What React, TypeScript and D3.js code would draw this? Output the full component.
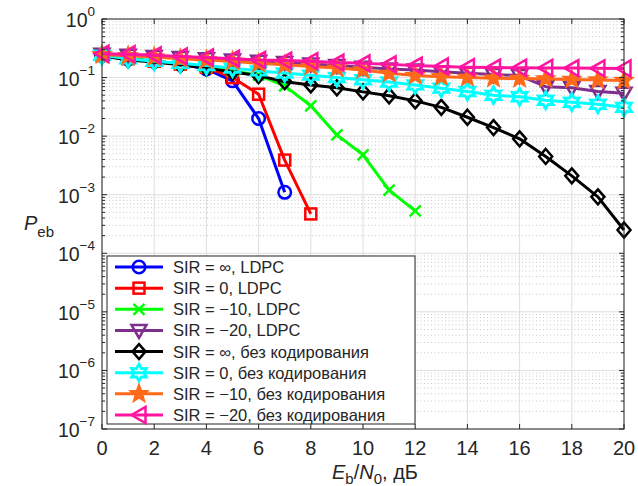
import React from 'react';
import * as d3 from 'd3';

// Eb/N0, dB
const ebn0 = [0, 1, 2, 3, 4, 5, 6, 7, 8, 9, 10, 11, 12, 13, 14, 15, 16, 17, 18, 19, 20];

// LDPC curves (truncated where simulation stopped)
const ldpcInf = [0.24, 0.21, 0.19, 0.17, 0.14, 0.088, 0.02, 0.0011];
const ldpc0 = [0.24, 0.21, 0.19, 0.17, 0.15, 0.1, 0.052, 0.0039, 0.00047];
const ldpcM10 = [0.24, 0.21, 0.19, 0.17, 0.15, 0.13, 0.11, 0.072, 0.033, 0.0105, 0.0048, 0.0012, 0.00053];
const ldpcM20 = [0.25, 0.24, 0.23, 0.22, 0.21, 0.2, 0.19, 0.18, 0.17, 0.16, 0.15, 0.14, 0.135, 0.126, 0.118, 0.113, 0.108, 0.07, 0.067, 0.058, 0.054];

// uncoded
const uncInf = [0.235, 0.2, 0.185, 0.165, 0.145, 0.125, 0.108, 0.085, 0.075, 0.067, 0.057, 0.049, 0.04, 0.031, 0.021, 0.014, 0.009, 0.0045, 0.0021, 0.00092, 0.00025];
const unc0 = [0.24, 0.21, 0.19, 0.175, 0.16, 0.145, 0.13, 0.12, 0.11, 0.1, 0.092, 0.084, 0.075, 0.066, 0.058, 0.05, 0.047, 0.041, 0.038, 0.035, 0.031];
const uncM10 = [0.245, 0.235, 0.225, 0.21, 0.2, 0.19, 0.175, 0.165, 0.155, 0.145, 0.135, 0.118, 0.108, 0.103, 0.1, 0.097, 0.096, 0.095, 0.093, 0.091, 0.089];
const uncM20 = [0.255, 0.25, 0.24, 0.23, 0.22, 0.21, 0.2, 0.195, 0.19, 0.18, 0.175, 0.168, 0.16, 0.155, 0.15, 0.148, 0.147, 0.146, 0.145, 0.144, 0.143];

const labels = [
  'SIR = ∞, LDPC',
  'SIR = 0, LDPC',
  'SIR = −10, LDPC',
  'SIR = −20, LDPC',
  'SIR = ∞, без кодирования',
  'SIR = 0, без кодирования',
  'SIR = −10, без кодирования',
  'SIR = −20, без кодирования',
];
const colors = ['#0000ff', '#ff0000', '#00ff00', '#7e2f8e', '#000000', '#00ffff', '#ff6a1a', '#ff14a0'];
const markers = ['circle', 'square', 'x', 'down', 'diamond', 'hexagram', 'pentagram', 'left'];
const seriesData = [ldpcInf, ldpc0, ldpcM10, ldpcM20, uncInf, unc0, uncM10, uncM20];

const xTicks = [0, 2, 4, 6, 8, 10, 12, 14, 16, 18, 20];
const yExps = [0, -1, -2, -3, -4, -5, -6, -7];

const W = 638;
const H = 486;
const m = { left: 102, right: 624, top: 19, bottom: 429 };
const font = 'Liberation Sans, Arial, Helvetica, sans-serif';

function star(n: number, ro: number, ri: number, cx: number, cy: number) {
  const pts: string[] = [];
  for (let i = 0; i < 2 * n; i++) {
    const a = -Math.PI / 2 + (i * Math.PI) / n;
    const r = i % 2 === 0 ? ro : ri;
    pts.push(`${cx + r * Math.cos(a)},${cy + r * Math.sin(a)}`);
  }
  return 'M' + pts.join('L') + 'Z';
}

function Marker({ kind, x, y, color }: { kind: string; x: number; y: number; color: string }) {
  const sw = 2.5;
  switch (kind) {
    case 'circle':
      return <circle cx={x} cy={y} r={6.3} fill="none" stroke={color} strokeWidth={sw} />;
    case 'square':
      return <rect x={x - 5.5} y={y - 5.5} width={11} height={11} fill="none" stroke={color} strokeWidth={sw} />;
    case 'x':
      return (
        <path d={`M${x - 5.5},${y - 5.5}L${x + 5.5},${y + 5.5}M${x - 5.5},${y + 5.5}L${x + 5.5},${y - 5.5}`} stroke={color} strokeWidth={sw} />
      );
    case 'down':
      return <path d={`M${x - 7.5},${y - 5.5}L${x + 7.5},${y - 5.5}L${x},${y + 7.5}Z`} fill="none" stroke={color} strokeWidth={sw} />;
    case 'left':
      return <path d={`M${x + 6.5},${y - 8}L${x + 6.5},${y + 8}L${x - 7.5},${y}Z`} fill="none" stroke={color} strokeWidth={sw} />;
    case 'diamond':
      return <path d={`M${x},${y - 7.5}L${x + 6.5},${y}L${x},${y + 7.5}L${x - 6.5},${y}Z`} fill="none" stroke={color} strokeWidth={sw} />;
    case 'hexagram':
      return <path d={star(6, 8.5, 4.8, x, y)} fill="none" stroke={color} strokeWidth={2.8} />;
    case 'pentagram':
      return <path d={star(5, 9.5, 4, x, y)} fill={color} stroke={color} strokeWidth={1.5} />;
    default:
      return null;
  }
}

export default function App() {
  const x = d3.scaleLinear().domain([0, 20]).range([m.left, m.right]);
  const y = d3.scaleLog().domain([1e-7, 1]).range([m.bottom, m.top]);
  const line = d3
    .line<number>()
    .x((_, i) => x(ebn0[i]))
    .y((d) => y(d));

  const minor: number[] = [];
  yExps.slice(1).forEach((e) => {
    for (let k = 2; k <= 9; k++) minor.push(k * Math.pow(10, e));
  });

  const legX = 107;
  const legY = 256;
  const legW = 308;
  const legH = 168;
  const rowH = 21.14;

  return (
    <svg width={W} height={H} style={{ position: 'absolute', left: 0, top: 0, background: '#fff' }} fontFamily={font}>
      <rect x={0} y={0} width={W} height={H} fill="#fff" />
      {/* grid */}
      {minor.map((v, i) => (
        <line key={'mg' + i} x1={m.left} x2={m.right} y1={y(v)} y2={y(v)} stroke="#c8c8c8" strokeWidth={1} strokeDasharray="1,2.5" />
      ))}
      {yExps.map((e) => (
        <line key={'yg' + e} x1={m.left} x2={m.right} y1={y(Math.pow(10, e))} y2={y(Math.pow(10, e))} stroke="#dedede" strokeWidth={1} />
      ))}
      {xTicks.map((t) => (
        <line key={'xg' + t} x1={x(t)} x2={x(t)} y1={m.top} y2={m.bottom} stroke="#dedede" strokeWidth={1} />
      ))}

      {/* curves */}
      {seriesData.map((s, si) => (
        <g key={'s' + si}>
          <path d={line(s) || ''} fill="none" stroke={colors[si]} strokeWidth={3} strokeLinejoin="round" />
          {s.map((v, i) => (
            <Marker key={i} kind={markers[si]} x={x(ebn0[i])} y={y(v)} color={colors[si]} />
          ))}
        </g>
      ))}

      {/* axes box and ticks */}
      <rect x={m.left} y={m.top} width={m.right - m.left} height={m.bottom - m.top} fill="none" stroke="#262626" strokeWidth={1} />
      {xTicks.map((t) => (
        <g key={'xt' + t}>
          <line x1={x(t)} x2={x(t)} y1={m.bottom} y2={m.bottom - 5} stroke="#262626" />
          <line x1={x(t)} x2={x(t)} y1={m.top} y2={m.top + 5} stroke="#262626" />
          <text x={x(t)} y={455} fontSize={20} textAnchor="middle" fill="#262626">
            {t}
          </text>
        </g>
      ))}
      {minor.map((v, i) => (
        <g key={'mt' + i}>
          <line x1={m.left} x2={m.left + 3} y1={y(v)} y2={y(v)} stroke="#262626" />
          <line x1={m.right} x2={m.right - 3} y1={y(v)} y2={y(v)} stroke="#262626" />
        </g>
      ))}
      {yExps.map((e) => {
        const yy = y(Math.pow(10, e));
        return (
          <g key={'yt' + e}>
            <line x1={m.left} x2={m.left + 5} y1={yy} y2={yy} stroke="#262626" />
            <line x1={m.right} x2={m.right - 5} y1={yy} y2={yy} stroke="#262626" />
            <text x={95} y={yy + 8} fontSize={19.5} textAnchor="end" fill="#262626">
              10
              <tspan dy={-11} fontSize={13.5}>
                {e === 0 ? '0' : '−' + -e}
              </tspan>
            </text>
          </g>
        );
      })}

      {/* axis labels */}
      <text x={24} y={230} fontSize={20} fill="#262626">
        <tspan fontStyle="italic">P</tspan>
        <tspan dy={7} fontSize={15}>eb</tspan>
      </text>
      <text x={332} y={479} fontSize={20} fill="#262626">
        <tspan fontStyle="italic">E</tspan>
        <tspan dy={5} fontSize={15}>b</tspan>
        <tspan dy={-5}>/</tspan>
        <tspan fontStyle="italic">N</tspan>
        <tspan dy={5} fontSize={15}>0</tspan>
        <tspan dy={-5}>, дБ</tspan>
      </text>

      {/* legend */}
      <rect x={legX} y={legY} width={legW} height={legH} fill="#fff" stroke="#262626" strokeWidth={1} />
      {labels.map((lab, i) => {
        const ly = legY + 11 + i * rowH;
        return (
          <g key={'lg' + i}>
            <line x1={legX + 8} x2={legX + 56} y1={ly} y2={ly} stroke={colors[i]} strokeWidth={3} />
            <Marker kind={markers[i]} x={legX + 32} y={ly} color={colors[i]} />
            <text x={legX + 66} y={ly + 6} fontSize={16.5} fill="#262626">
              {lab}
            </text>
          </g>
        );
      })}
    </svg>
  );
}
